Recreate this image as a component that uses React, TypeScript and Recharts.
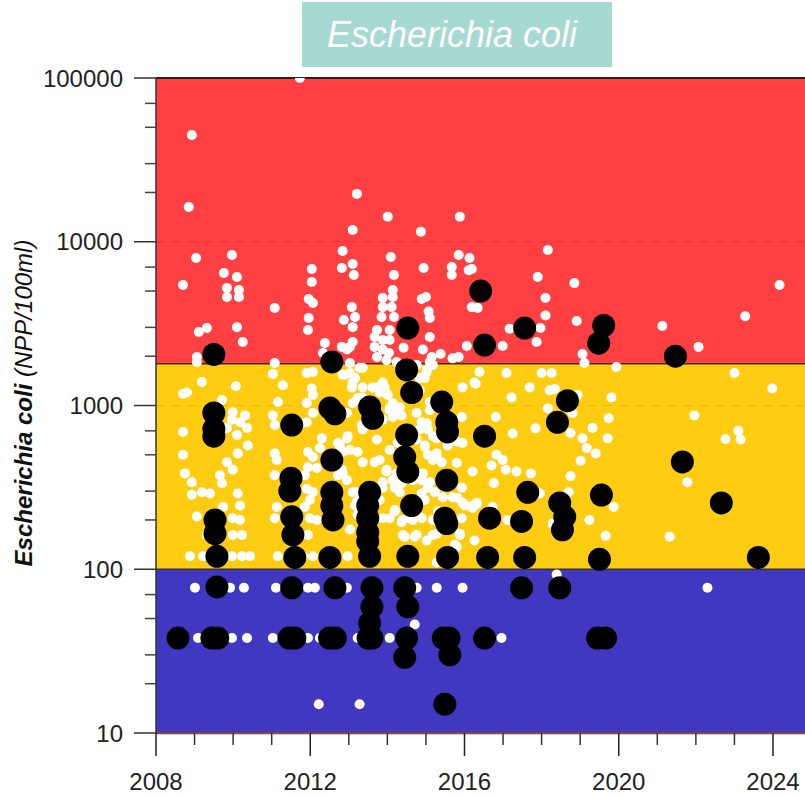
import { ScatterChart, Scatter, XAxis, YAxis, ReferenceArea, ReferenceLine } from 'recharts'

const FONT = '"Liberation Sans", Arial, sans-serif'

// axis ticks
const yearTicks = [2008, 2009, 2010, 2011, 2012, 2013, 2014, 2015, 2016, 2017, 2018, 2019, 2020, 2021, 2022, 2023, 2024]
const majorYears = [2008, 2012, 2016, 2020, 2024]
const valueTicks = [
  10, 20, 30, 40, 50, 60, 70, 80, 90,
  100, 200, 300, 400, 500, 600, 700, 800, 900,
  1000, 2000, 3000, 4000, 5000, 6000, 7000, 8000, 9000,
  10000, 20000, 30000, 40000, 50000, 60000, 70000, 80000, 90000,
  100000,
]
const majorValues = [10, 100, 1000, 10000, 100000]

// quality classes (NPP/100ml)
const lowLimit = 100
const highLimit = 1800

// [year, value] samples (white dots)
const samples2008to2011: [number, number][] = [
  [2008.93, 44900], [2008.85, 16300], [2009.04, 7950], [2008.7, 5450], [2009.97, 8300], [2009.76, 6440],
  [2010.1, 6090], [2009.84, 5210], [2010.15, 5070], [2009.84, 4600], [2010.15, 4600], [2010.1, 3010],
  [2010.25, 2440], [2009.11, 2810], [2009.32, 2970], [2009.06, 1980], [2009.06, 1845], [2011.08, 3940],
  [2011.08, 1820], [2011.03, 1560],
  [2009.19, 1390], [2008.8, 1200], [2008.7, 1180], [2010.07, 1310], [2009.71, 1080], [2009.99, 910],
  [2010.31, 870], [2009.97, 820], [2010.18, 790], [2009.84, 730], [2010.36, 730], [2008.7, 690],
  [2010.1, 660], [2010.38, 570], [2008.7, 500], [2010.12, 510], [2009.84, 450], [2009.99, 405],
  [2009.66, 375], [2008.75, 385], [2008.93, 340], [2009.71, 335], [2009.19, 295], [2008.93, 285],
  [2009.4, 290], [2010.12, 290], [2009.74, 240], [2010.18, 245], [2009.06, 210], [2009.99, 205],
  [2010.18, 200], [2009.32, 162], [2009.99, 162], [2010.23, 162], [2008.88, 120], [2009.22, 120],
  [2009.97, 120], [2010.23, 120], [2010.44, 120], [2009.01, 77], [2009.92, 77], [2010.28, 77],
  [2009.09, 38], [2009.97, 38], [2010.36, 38],
  [2011.29, 1330], [2011.16, 1050], [2011.03, 870], [2011.08, 760], [2011.08, 510], [2011.13, 465],
  [2011.08, 375], [2011.13, 240], [2011.08, 205], [2011.16, 120], [2011.11, 77], [2011.03, 38],
  [2011.73, 100000],
]

const samples2012to2014: [number, number][] = [
  [2012.04, 6820], [2012.04, 5680], [2011.96, 4470], [2012.07, 4230], [2011.96, 3420], [2011.94, 2890],
  [2012.38, 2410], [2012.33, 2090], [2012.84, 8770], [2012.82, 6920], [2013.1, 7310], [2013.13, 6270],
  [2013.1, 11800], [2013.21, 19600], [2013.08, 3990], [2013.16, 3470], [2012.87, 3330], [2013.1, 3010],
  [2013.1, 2440], [2013.03, 2280], [2012.82, 2280], [2012.95, 2200], [2014.01, 14200], [2014.09, 8070],
  [2014.17, 6270], [2014.14, 5070], [2013.88, 4530], [2014.14, 4600], [2013.88, 3990], [2014.11, 3990],
  [2013.85, 3470], [2014.17, 3470], [2013.73, 2890], [2014.06, 2890], [2013.67, 2620], [2013.88, 2510],
  [2014.06, 2510], [2013.67, 2280], [2013.88, 2200], [2014.04, 2090], [2014.42, 2250], [2013.73, 1980],
  [2013.98, 1890], [2014.87, 11500], [2014.94, 6920], [2014.89, 4470],
  [2011.91, 1580], [2012.07, 1600], [2012.04, 1270], [2012.07, 1160], [2011.91, 1035], [2012.07, 900],
  [2011.91, 790], [2011.78, 780], [2012.3, 630], [2011.94, 520], [2012.25, 550], [2012.07, 485],
  [2011.94, 420], [2012.17, 415], [2011.86, 375], [2011.91, 310], [2012.07, 295], [2011.99, 265],
  [2011.86, 240], [2011.99, 205], [2012.17, 200], [2011.94, 162], [2011.81, 120], [2012.07, 120],
  [2011.94, 77], [2012.12, 77], [2011.94, 38], [2012.22, 15], [2013.28, 15],
  [2012.84, 1540], [2013.1, 1380], [2013.03, 1580], [2013.28, 1700], [2013.23, 1110], [2013.1, 1035],
  [2012.95, 900], [2012.95, 630], [2012.77, 570], [2012.72, 500], [2013.03, 535], [2012.82, 405],
  [2012.72, 375], [2013.21, 295], [2013.16, 245], [2013.23, 215], [2013.03, 175], [2012.97, 120],
  [2012.95, 77], [2013.23, 38], [2012.25, 38],
  [2013.36, 1290], [2013.62, 1290], [2013.88, 1380], [2013.98, 1180], [2014.14, 1035], [2014.19, 910],
  [2014.06, 935], [2014.27, 960], [2013.88, 820], [2013.36, 740], [2013.73, 620], [2014.06, 535],
  [2014.27, 590], [2013.8, 465], [2013.98, 405], [2014.24, 385], [2014.19, 315], [2013.88, 315],
  [2013.8, 265], [2014.19, 225], [2014.4, 200], [2014.58, 205], [2014.4, 162], [2014.76, 162],
  [2014.76, 220], [2014.97, 265], [2014.92, 385], [2014.97, 560], [2014.76, 620], [2014.76, 900],
  [2014.84, 1240], [2014.97, 1470], [2014.76, 1770], [2014.76, 77], [2014.71, 46], [2014.06, 38],
  // dense cluster 2013-2015
  [2013.03, 1820], [2012.9, 1540], [2013.16, 1470], [2013.36, 1700], [2013.08, 1290], [2013.73, 1290],
  [2013.93, 1290], [2014.01, 1160], [2013.8, 1200], [2014.58, 1770], [2014.84, 1470], [2014.24, 1845],
  [2013.21, 1080], [2013.36, 1120], [2014.06, 960], [2014.32, 975], [2014.14, 850], [2014.37, 870],
  [2014.89, 790], [2014.84, 715], [2013.36, 715], [2013.34, 760], [2012.97, 650], [2012.72, 590],
  [2012.84, 520], [2013.23, 520], [2013.36, 450], [2013.67, 450], [2014.97, 570], [2013.98, 395],
  [2014.14, 350], [2013.88, 340], [2012.84, 385], [2012.95, 350], [2014.66, 350], [2014.89, 350],
  [2013.1, 295], [2013.21, 258], [2014.32, 295], [2014.37, 335], [2014.89, 290], [2014.19, 230],
  [2014.06, 205], [2014.37, 194], [2014.66, 200], [2014.89, 205], [2013.88, 205], [2014.45, 158],
  [2014.71, 158],
]

const samples2015to2024: [number, number][] = [
  [2015.0, 4600], [2015.07, 3750], [2015.1, 3420], [2015.1, 2620], [2014.92, 2200], [2015.15, 1980],
  [2015.38, 2065], [2015.88, 14200], [2015.85, 8300], [2016.13, 7950], [2015.67, 7000], [2015.67, 6270],
  [2016.11, 6700], [2016.19, 3990], [2016.06, 2310], [2015.69, 1940], [2015.85, 1980], [2016.19, 6820],
  [2018.16, 8900], [2017.9, 6090], [2018.85, 5590], [2018.1, 4530], [2018.1, 3550], [2018.91, 3280],
  [2017.97, 2970], [2017.17, 2940], [2017.87, 2440], [2016.99, 2310], [2016.34, 3940], [2019.06, 2065],
  [2019.11, 1820], [2019.94, 1720], [2021.13, 3060], [2022.07, 2280], [2023.28, 3510], [2024.17, 5450],
  [2015.02, 150], [2015.05, 315], [2015.18, 465], [2015.28, 510], [2015.02, 780], [2015.02, 1600],
  [2015.18, 1770], [2015.28, 77], [2015.95, 77],
  [2015.95, 1290], [2016.26, 1380], [2015.93, 850], [2015.8, 600], [2015.28, 630], [2016.21, 395],
  [2015.93, 315], [2015.69, 275], [2015.95, 255], [2016.21, 245], [2015.88, 165], [2015.28, 165],
  [2015.8, 137], [2016.26, 150], [2015.69, 110], [2015.28, 110],
  [2015.02, 1650], [2015.1, 1845], [2015.1, 1050], [2015.1, 935], [2015.05, 715], [2015.18, 650],
  [2015.05, 500], [2015.28, 478], [2015.41, 450], [2015.8, 446], [2015.95, 590], [2015.56, 570],
  [2015.1, 340], [2015.23, 295], [2015.44, 275], [2015.82, 272], [2016.01, 245], [2016.32, 255],
  [2015.31, 225], [2015.18, 200], [2015.93, 205], [2015.18, 162], [2015.88, 162], [2015.75, 141],
  [2016.21, 237],
  [2016.39, 1600], [2017.09, 1580], [2018.0, 1580], [2018.26, 1580], [2016.29, 1360], [2017.69, 1290],
  [2018.21, 1240], [2018.34, 1260], [2017.22, 1120], [2018.93, 1160], [2019.81, 1120], [2018.16, 960],
  [2018.8, 900], [2016.81, 850], [2019.74, 835], [2017.84, 725], [2017.25, 675], [2019.32, 730],
  [2018.75, 680], [2019.06, 630], [2019.71, 630], [2019.17, 550], [2019.4, 510], [2016.83, 500],
  [2016.99, 465], [2016.7, 430], [2017.07, 405], [2017.35, 395], [2017.72, 385], [2019.01, 460],
  [2018.75, 370], [2016.76, 335], [2017.95, 290], [2018.7, 295], [2016.32, 250], [2016.73, 240],
  [2019.87, 240], [2017.12, 200], [2018.29, 190], [2019.24, 200], [2019.66, 160], [2021.32, 158],
  [2018.39, 93], [2022.3, 77], [2016.96, 38], [2023.0, 1580], [2023.98, 1270], [2021.96, 870],
  [2023.1, 700], [2022.77, 625], [2023.16, 620], [2021.78, 340],
]

// [year, value] highlighted samples (black dots)
const highlighted: [number, number][] = [
  [2008.57, 38],
  [2009.5, 2050], [2009.5, 900], [2009.5, 720], [2009.5, 650], [2009.53, 200], [2009.53, 165],
  [2009.58, 120], [2009.58, 78], [2009.45, 38], [2009.6, 38],
  [2011.52, 760], [2011.5, 360], [2011.47, 300], [2011.52, 209], [2011.55, 162], [2011.6, 118],
  [2011.52, 77], [2011.45, 38], [2011.6, 38],
  [2012.56, 1845], [2012.51, 965], [2012.64, 890], [2012.56, 464], [2012.56, 295], [2012.56, 245],
  [2012.59, 200], [2012.51, 118], [2012.64, 77], [2012.5, 38], [2012.65, 38],
  [2013.54, 980], [2013.62, 835], [2013.54, 295], [2013.49, 245], [2013.49, 205], [2013.49, 168],
  [2013.49, 148], [2013.54, 120], [2013.6, 77], [2013.6, 59], [2013.54, 47], [2013.5, 38], [2013.6, 38],
  [2014.53, 2970], [2014.5, 1650], [2014.63, 1200], [2014.5, 660], [2014.45, 484], [2014.53, 393],
  [2014.63, 245], [2014.53, 120], [2014.45, 77], [2014.53, 59], [2014.5, 38], [2014.45, 29],
  [2015.41, 1050], [2015.54, 790], [2015.56, 690], [2015.54, 350], [2015.49, 205], [2015.54, 190],
  [2015.56, 118], [2015.45, 38], [2015.6, 38], [2015.62, 30], [2015.49, 15],
  [2016.42, 5000], [2016.52, 2340], [2016.52, 650], [2016.65, 205], [2016.6, 118], [2016.52, 38],
  [2017.56, 2970], [2017.64, 295], [2017.48, 196], [2017.56, 118], [2017.48, 77],
  [2018.67, 1070], [2018.41, 790], [2018.47, 254], [2018.6, 209], [2018.54, 174], [2018.47, 77],
  [2019.61, 3080], [2019.48, 2400], [2019.55, 284], [2019.5, 115], [2019.45, 38], [2019.66, 38],
  [2021.47, 2000], [2021.65, 452], [2022.66, 254], [2023.62, 118],
]

const toPoints = (rows: [number, number][]) => rows.map(([year, value]) => ({ year, value }))

const YTick = (props: any) => {
  const { x, y, payload } = props
  const major = majorValues.includes(payload.value)
  if (!major) {
    return <line x1={x - 11} x2={x} y1={y} y2={y} stroke="#444" strokeWidth={1.5} />
  }
  return (
    <g>
      <line x1={x - 22} x2={x} y1={y} y2={y} stroke="#333" strokeWidth={1.5} />
      <text x={x - 33} y={y} textAnchor="end" dominantBaseline="central" fontSize={24} fill="#222" fontFamily={FONT}>
        {payload.value}
      </text>
    </g>
  )
}

const XTick = (props: any) => {
  const { x, y, payload } = props
  const major = majorYears.includes(payload.value)
  if (!major) {
    return <line x1={x} x2={x} y1={y} y2={y + 12} stroke="#333" strokeWidth={1.5} />
  }
  return (
    <g>
      <line x1={x} x2={x} y1={y} y2={y + 23} stroke="#222" strokeWidth={1.5} />
      <text x={x} y={y + 48} textAnchor="middle" dominantBaseline="central" fontSize={24} fill="#222" fontFamily={FONT}>
        {payload.value}
      </text>
    </g>
  )
}

const YTitle = () => (
  <text
    transform="translate(23,403) rotate(-90)"
    textAnchor="middle"
    dominantBaseline="central"
    fontSize={24}
    fill="#111"
    fontFamily={FONT}
    fontStyle="italic"
  >
    <tspan fontWeight="bold">Escherichia coli</tspan>
    <tspan> (NPP/100ml)</tspan>
  </text>
)

export default function App() {
  const white = [...toPoints(samples2008to2011), ...toPoints(samples2012to2014), ...toPoints(samples2015to2024)]
  const black = toPoints(highlighted)

  return (
    <div style={{ position: 'absolute', left: 0, top: 0, width: 805, height: 795, background: '#fff', fontFamily: FONT }}>
      <ScatterChart width={805} height={795} margin={{ top: 78, right: 0, bottom: 0, left: 0 }}>
        <XAxis
          type="number"
          dataKey="year"
          domain={[2008, 2024.83]}
          ticks={yearTicks}
          allowDataOverflow
          height={62}
          tickSize={0}
          tickMargin={0}
          tickLine={false}
          axisLine={{ stroke: '#7a4848', strokeWidth: 2.5 }}
          tick={(p: any) => <XTick {...p} />}
        />
        <YAxis
          type="number"
          dataKey="value"
          scale="log"
          domain={[10, 100000]}
          ticks={valueTicks}
          allowDataOverflow
          width={156}
          tickSize={0}
          tickMargin={0}
          tickLine={false}
          axisLine={{ stroke: '#333', strokeWidth: 1.5 }}
          tick={(p: any) => <YTick {...p} />}
          label={{ content: () => <YTitle /> }}
        />
        <ReferenceArea y1={10} y2={lowLimit} fill="#4137c1" fillOpacity={1} stroke="none" />
        <ReferenceArea y1={lowLimit} y2={highLimit} fill="#fecd12" fillOpacity={1} stroke="none" />
        <ReferenceArea y1={highLimit} y2={100000} fill="#fe4043" fillOpacity={1} stroke="none" />
        <ReferenceLine y={1000} stroke="#e9b80f" strokeDasharray="8 8" />
        <ReferenceLine y={10000} stroke="#dc3537" strokeDasharray="8 8" />
        <ReferenceLine y={lowLimit} stroke="#3a3030" strokeWidth={1.5} />
        <ReferenceLine y={highLimit} stroke="#3a3030" strokeWidth={1.5} />
        <ReferenceLine y={100000} stroke="#222" strokeWidth={2} />
        <Scatter
          data={white}
          isAnimationActive={false}
          shape={(p: any) => <circle cx={p.cx} cy={p.cy} r={5} fill="#ffffff" />}
        />
        <Scatter
          data={black}
          isAnimationActive={false}
          shape={(p: any) => <circle cx={p.cx} cy={p.cy} r={11.5} fill="#000000" />}
        />
      </ScatterChart>
      <div
        style={{
          position: 'absolute',
          left: 302,
          top: 2,
          width: 310,
          height: 65,
          background: '#a6d9d2',
          color: '#fff',
          fontStyle: 'italic',
          fontSize: 36,
          display: 'flex',
          alignItems: 'center',
          justifyContent: 'center',
          paddingRight: 10,
          boxSizing: 'border-box',
        }}
      >
        Escherichia coli
      </div>
    </div>
  )
}
